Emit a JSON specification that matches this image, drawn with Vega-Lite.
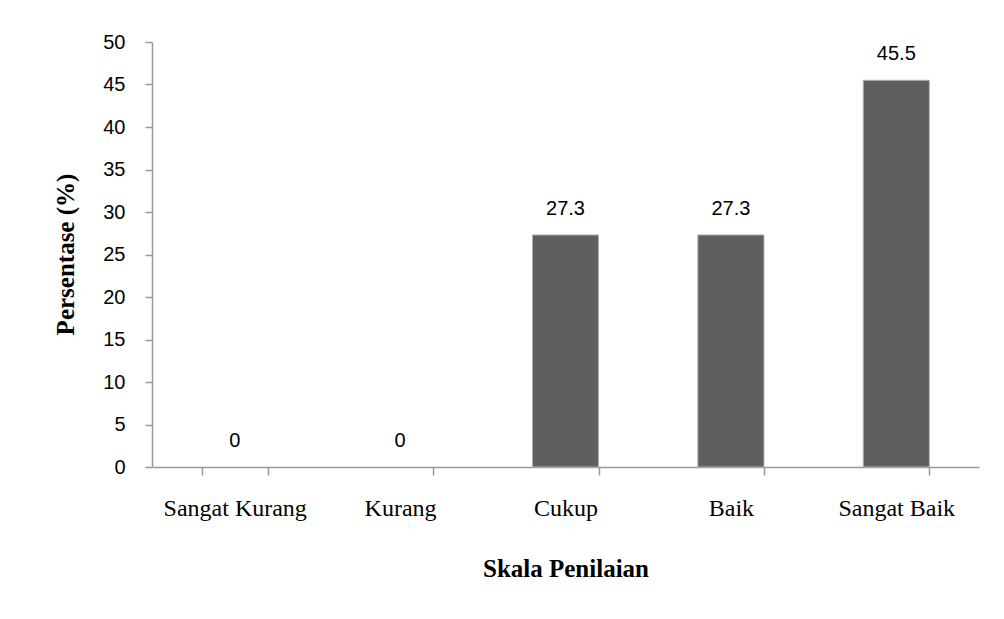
{
  "$schema": "https://vega.github.io/schema/vega-lite/v6.json",
  "autosize": {"type": "none"},
  "width": 827,
  "height": 425,
  "padding": {"left": 152, "top": 42, "right": 25, "bottom": 152},
  "background": "white",
  "config": {"view": {"stroke": null}},
  "data": {
    "values": [
      {"skala": "Sangat Kurang", "persen": 0},
      {"skala": "Kurang", "persen": 0},
      {"skala": "Cukup", "persen": 27.3},
      {"skala": "Baik", "persen": 27.3},
      {"skala": "Sangat Baik", "persen": 45.5}
    ]
  },
  "encoding": {
    "x": {
      "field": "skala",
      "type": "nominal",
      "sort": null,
      "scale": {"paddingInner": 0.6, "paddingOuter": 0.3},
      "axis": {
        "title": "Skala Penilaian",
        "labelAngle": 0,
        "labelFont": "Liberation Serif",
        "labelFontSize": 24,
        "labelColor": "black",
        "labelPadding": 21,
        "tickBand": "extent",
        "tickSize": 8,
        "tickColor": "#999999",
        "tickWidth": 1.5,
        "domainColor": "#999999",
        "domainWidth": 1.5,
        "titleFont": "Liberation Serif",
        "titleFontWeight": "bold",
        "titleFontSize": 25,
        "titleColor": "black",
        "titleY": 101,
        "titleBaseline": "middle"
      }
    },
    "y": {
      "field": "persen",
      "type": "quantitative",
      "scale": {"domain": [0, 50]},
      "axis": {
        "title": "Persentase (%)",
        "values": [0, 5, 10, 15, 20, 25, 30, 35, 40, 45, 50],
        "grid": false,
        "labelFont": "Liberation Sans",
        "labelFontSize": 20,
        "labelColor": "black",
        "labelPadding": 20,
        "tickSize": 7,
        "tickColor": "#999999",
        "tickWidth": 1.5,
        "domainColor": "#999999",
        "domainWidth": 1.5,
        "titleFont": "Liberation Serif",
        "titleFontWeight": "bold",
        "titleFontSize": 25,
        "titleColor": "black",
        "titleX": -87,
        "titleY": 212,
        "titleBaseline": "middle"
      }
    }
  },
  "layer": [
    {
      "mark": {"type": "bar", "color": "#5f5f5f", "stroke": "#b4b4b4", "strokeWidth": 1},
      "encoding": {
        "strokeOpacity": {"condition": {"test": "datum.persen > 0", "value": 1}, "value": 0}
      }
    },
    {
      "mark": {
        "type": "text",
        "baseline": "alphabetic",
        "dy": -20,
        "font": "Liberation Sans",
        "fontSize": 20,
        "color": "black"
      },
      "encoding": {"text": {"field": "persen", "type": "quantitative", "format": "~g"}}
    }
  ]
}
